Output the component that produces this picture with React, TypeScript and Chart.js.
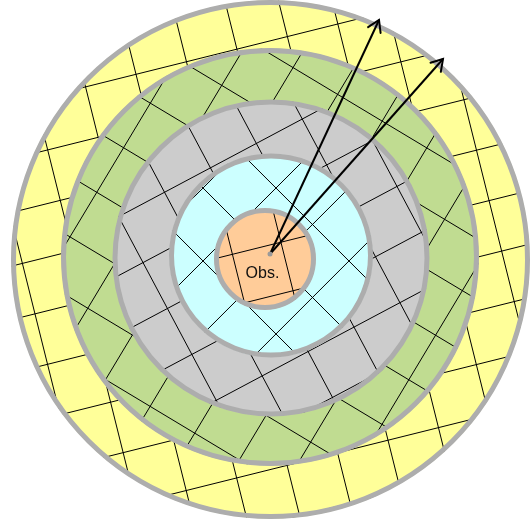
import React, { useEffect, useRef } from "react";
import { Chart, registerables } from "chart.js";

Chart.register(...registerables);

// ---- data (drawing units; y grows downward) ----
const RING_NAMES = ["outer", "third", "second", "first", "Obs."];
const RING_CX = [270.5, 270, 271, 271, 265];
const RING_CY = [259.5, 257, 258, 255.5, 259];
const RING_R = [259.5, 209, 158.5, 102, 51];
const RING_FILL = ["#ffff99", "#c0dc91", "#cccccc", "#ccffff", "#ffcc99"];
const GRID_ANGLE = [-14, 31, -28, 45, -14];
const GRID_STEP = [52, 52, 52, 51.6, 50];
const GRID_PHASE_A = [1, 11, 39, 41, 3];
const GRID_PHASE_B = [10, 26, 3, 18.5, 14];

const ARROW_START_X = [270, 270];
const ARROW_START_Y = [254, 254];
const ARROW_END_X = [379, 443];
const ARROW_END_Y = [20, 59];

const OBS_LABEL = "Obs.";
const OBS_X = 262.5;
const OBS_Y = 278;

const X_MIN = 0, X_MAX = 531, Y_MIN = 0, Y_MAX = 525;

const ringsPlugin = {
  id: "rings",
  beforeDatasetsDraw(chart: any) {
    const ctx = chart.ctx;
    const xs = chart.scales.x, ys = chart.scales.y;
    const px = (v: number) => xs.getPixelForValue(v);
    const py = (v: number) => ys.getPixelForValue(v);
    const border = 5;
    for (let i = 0; i < RING_NAMES.length; i++) {
      const cx = px(RING_CX[i]);
      const cy = py(RING_CY[i]);
      const r = px(RING_CX[i] + RING_R[i]) - cx;
      ctx.save();
      ctx.beginPath();
      ctx.arc(cx, cy, r - 0.5, 0, Math.PI * 2);
      ctx.fillStyle = RING_FILL[i];
      ctx.fill();
      ctx.clip();
      const th = (GRID_ANGLE[i] * Math.PI) / 180;
      const fams = [
        { nx: -Math.sin(th), ny: Math.cos(th), ph: GRID_PHASE_A[i] },
        { nx: Math.cos(th), ny: Math.sin(th), ph: GRID_PHASE_B[i] },
      ];
      ctx.strokeStyle = "#000000";
      ctx.lineWidth = 1;
      const step = GRID_STEP[i];
      const R = RING_R[i];
      for (const f of fams) {
        const c0 = f.nx * RING_CX[i] + f.ny * RING_CY[i];
        const kmin = Math.floor((c0 - R - f.ph) / step);
        const kmax = Math.ceil((c0 + R - f.ph) / step);
        const dx = -f.ny, dy = f.nx;
        const tc = dx * RING_CX[i] + dy * RING_CY[i];
        for (let k = kmin; k <= kmax; k++) {
          const c = f.ph + k * step;
          const bx = f.nx * c, by = f.ny * c;
          const x1 = bx + dx * (tc - R - 5), y1 = by + dy * (tc - R - 5);
          const x2 = bx + dx * (tc + R + 5), y2 = by + dy * (tc + R + 5);
          ctx.beginPath();
          ctx.moveTo(px(x1), py(y1));
          ctx.lineTo(px(x2), py(y2));
          ctx.stroke();
        }
      }
      ctx.restore();
      ctx.save();
      ctx.beginPath();
      ctx.arc(cx, cy, r - border / 2, 0, Math.PI * 2);
      ctx.strokeStyle = "#adadad";
      ctx.lineWidth = border;
      ctx.stroke();
      ctx.restore();
    }
    ctx.save();
    ctx.fillStyle = "#111111";
    ctx.font = '16px "Liberation Sans", Arial, sans-serif';
    ctx.textAlign = "center";
    ctx.textBaseline = "alphabetic";
    ctx.fillText(OBS_LABEL, px(OBS_X), py(OBS_Y));
    ctx.restore();
  },
  afterDatasetsDraw(chart: any) {
    const ctx = chart.ctx;
    const xs = chart.scales.x, ys = chart.scales.y;
    ctx.save();
    ctx.strokeStyle = "#000000";
    ctx.lineWidth = 2;
    ctx.lineCap = "round";
    for (let i = 0; i < ARROW_END_X.length; i++) {
      const sx = xs.getPixelForValue(ARROW_START_X[i]);
      const sy = ys.getPixelForValue(ARROW_START_Y[i]);
      const ex = xs.getPixelForValue(ARROW_END_X[i]);
      const ey = ys.getPixelForValue(ARROW_END_Y[i]);
      const a = Math.atan2(sy - ey, sx - ex);
      const len = 13, spread = (32 * Math.PI) / 180;
      ctx.beginPath();
      ctx.moveTo(ex + len * Math.cos(a - spread), ey + len * Math.sin(a - spread));
      ctx.lineTo(ex, ey);
      ctx.lineTo(ex + len * Math.cos(a + spread), ey + len * Math.sin(a + spread));
      ctx.stroke();
    }
    ctx.restore();
  },
};

export default function App() {
  const ref = useRef<HTMLCanvasElement | null>(null);
  useEffect(() => {
    if (!ref.current) return;
    const datasets: any[] = [
      {
        label: "origin",
        data: [{ x: ARROW_START_X[0], y: ARROW_START_Y[0] }],
        pointRadius: 2.5,
        pointBackgroundColor: "#9a9a9a",
        pointBorderWidth: 0,
        showLine: false,
      },
    ];
    for (let i = 0; i < ARROW_END_X.length; i++) {
      datasets.push({
        label: "arrow" + i,
        data: [
          { x: ARROW_START_X[i], y: ARROW_START_Y[i] },
          { x: ARROW_END_X[i], y: ARROW_END_Y[i] },
        ],
        showLine: true,
        borderColor: "#000000",
        borderWidth: 2,
        pointRadius: 0,
      });
    }
    const chart = new Chart(ref.current, {
      type: "scatter",
      data: { datasets },
      options: {
        animation: false,
        responsive: false,
        events: [],
        layout: { padding: 0, autoPadding: false },
        plugins: { legend: { display: false }, tooltip: { enabled: false } },
        scales: {
          x: { type: "linear", min: X_MIN, max: X_MAX, display: false },
          y: { type: "linear", min: Y_MIN, max: Y_MAX, reverse: true, display: false },
        },
      },
      plugins: [ringsPlugin],
    } as any);
    return () => chart.destroy();
  }, []);
  return (
    <div style={{ position: "fixed", left: 0, top: 0, width: 531, height: 525, background: "#ffffff" }}>
      <canvas ref={ref} width={531} height={525} style={{ display: "block" }} />
    </div>
  );
}
